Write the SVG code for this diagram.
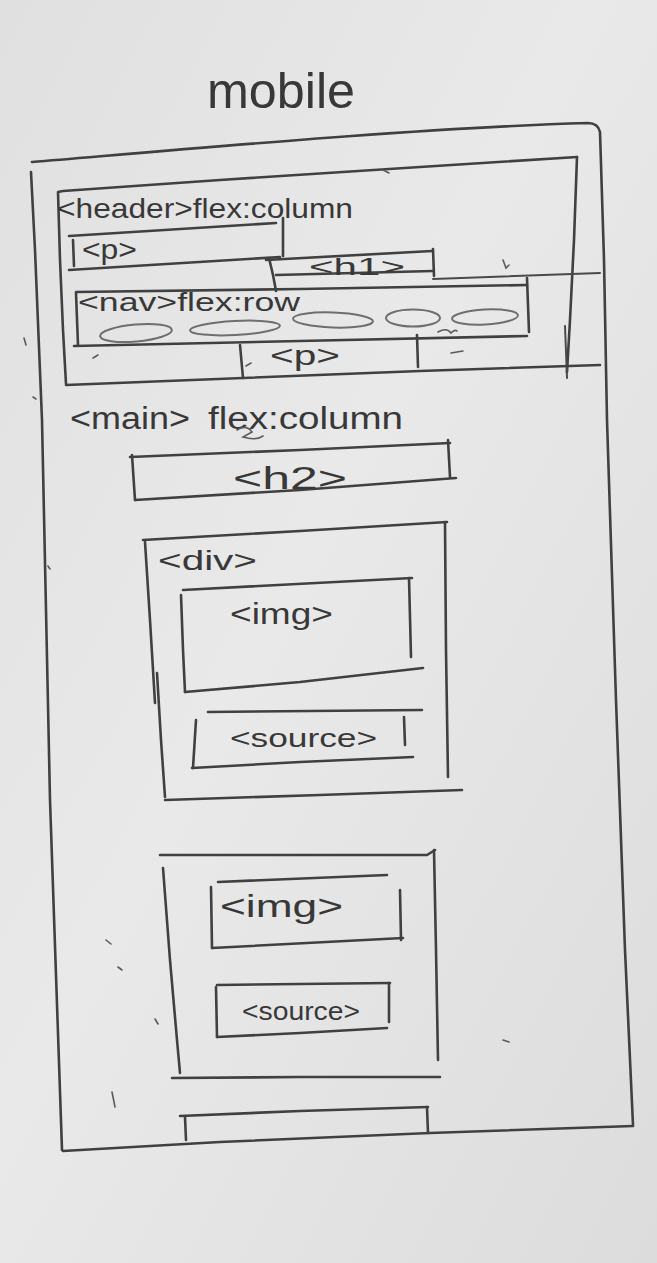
<svg xmlns="http://www.w3.org/2000/svg" width="657" height="1263" viewBox="0 0 657 1263">
  <defs>
    <linearGradient id="paper" x1="0" y1="0" x2="1" y2="1">
      <stop offset="0" stop-color="#e0e0e0"/>
      <stop offset="0.45" stop-color="#e9e9e9"/>
      <stop offset="1" stop-color="#dcdcdc"/>
    </linearGradient>
  </defs>
  <style>
    .pen{fill:none;stroke:#404040;stroke-width:2.6;stroke-linecap:round;stroke-linejoin:round}
    .thin{fill:none;stroke:#4a4a4a;stroke-width:2;stroke-linecap:round;stroke-linejoin:round}
    .oval{fill:none;stroke:#6e6e6e;stroke-width:2}
    .mark{fill:none;stroke:#5a5a5a;stroke-width:1.6;stroke-linecap:round}
    .txt{font-family:"Liberation Sans",Arial,sans-serif;fill:#383838}
  </style>

  <!-- paper -->
  <rect x="0" y="0" width="657" height="1263" fill="url(#paper)"/>

  <!-- page title -->
  <g id="title">
    <text class="txt" x="207" y="108" font-size="50" textLength="148" lengthAdjust="spacingAndGlyphs">mobile</text>
  </g>

  <!-- phone outline -->
  <g id="phone">
    <path class="pen" d="M32,162 C200,148 420,128 588,123 Q598,123 600,132 L604,260 L607,420 L616,700 L625,950 L633,1125"/>
    <path class="pen" d="M633,1126 L430,1133 L220,1142 L63,1151"/>
    <path class="pen" d="M62,1150 L50,800 L42,420 L35,250 L31,172"/>
  </g>

  <!-- header block -->
  <g id="header">
    <path class="pen" d="M577,157 L420,167 L220,180 L63,191 L58,192 L60,260 L63,330 L66,384"/>
    <path class="pen" d="M577,157 L574,240 L570,320 L567,372"/>
    <path class="thin" d="M565,326 L567,378"/>
    <path class="pen" d="M66,385 L243,378 L420,371 L600,365"/>
    <text class="txt" x="57" y="218" font-size="28" textLength="296" lengthAdjust="spacingAndGlyphs">&lt;header&gt;flex:column</text>
  </g>

  <g id="header-p">
    <path class="pen" d="M69,236 L276,223"/>
    <path class="pen" d="M283,218 L283,256"/>
    <path class="pen" d="M73,240 L74,266"/>
    <path class="pen" d="M69,270 L280,257"/>
    <text class="txt" x="82" y="259" font-size="27" textLength="55" lengthAdjust="spacingAndGlyphs">&lt;p&gt;</text>
  </g>

  <g id="header-h1">
    <path class="pen" d="M266,260 L432,251"/>
    <path class="pen" d="M433,249 L434,276"/>
    <path class="pen" d="M269,258 L273,275 L276,291"/>
    <path class="pen" d="M276,275 L433,271"/>
    <path class="thin" d="M433,279 L600,273"/>
    <text class="txt" x="309" y="275" font-size="24" textLength="96" lengthAdjust="spacingAndGlyphs">&lt;h1&gt;</text>
  </g>

  <g id="nav">
    <path class="pen" d="M76,292 L300,289 L527,285"/>
    <path class="pen" d="M76,293 L78,345"/>
    <path class="pen" d="M527,278 L529,332"/>
    <path class="pen" d="M74,346 L300,341 L527,336"/>
    <text class="txt" x="78" y="311" font-size="25" textLength="222" lengthAdjust="spacingAndGlyphs">&lt;nav&gt;flex:row</text>
    <ellipse class="oval" cx="136" cy="333" rx="36" ry="8.5" transform="rotate(-5 136 333)"/>
    <ellipse class="oval" cx="235" cy="328" rx="45" ry="7" transform="rotate(-3 235 328)"/>
    <ellipse class="oval" cx="333" cy="320" rx="40" ry="7.5" transform="rotate(2 333 320)"/>
    <ellipse class="oval" cx="413" cy="318" rx="27" ry="8.5"/>
    <ellipse class="oval" cx="485" cy="317" rx="33" ry="7.5" transform="rotate(-3 485 317)"/>
    <path class="mark" d="M438,332 Q447,327 451,333 Q455,329 457,331"/>
  </g>

  <g id="nav-p">
    <path class="pen" d="M240,345 L243,378"/>
    <path class="mark" d="M246,366 L251,363"/>
    <path class="pen" d="M417,335 L418,367"/>
    <text class="txt" x="270" y="365" font-size="27" textLength="70" lengthAdjust="spacingAndGlyphs">&lt;p&gt;</text>
  </g>

  <!-- main column -->
  <g id="main">
    <text class="txt" y="429" font-size="31"><tspan x="70" textLength="120" lengthAdjust="spacingAndGlyphs">&lt;main&gt;</tspan><tspan x="208" textLength="195" lengthAdjust="spacingAndGlyphs">flex:column</tspan></text>
    <path class="mark" d="M237,430 Q246,424 252,432 L243,437 Q256,441 263,436"/>
  </g>

  <g id="h2">
    <path class="pen" d="M130,457 L300,450 L450,443"/>
    <path class="pen" d="M448,440 L450,477"/>
    <path class="pen" d="M132,455 L135,500"/>
    <path class="pen" d="M135,500 L300,490 L456,478"/>
    <text class="txt" x="233" y="489" font-size="31" textLength="114" lengthAdjust="spacingAndGlyphs">&lt;h2&gt;</text>
  </g>

  <g id="card-1">
    <path class="pen" d="M143,540 L300,531 L447,522"/>
    <path class="pen" d="M145,542 L150,620 L155,703"/>
    <path class="pen" d="M157,673 L161,740 L165,797"/>
    <path class="pen" d="M445,522 L446,650 L448,777"/>
    <path class="pen" d="M165,800 L320,795 L462,790"/>
    <text class="txt" x="158" y="570" font-size="27" textLength="99" lengthAdjust="spacingAndGlyphs">&lt;div&gt;</text>
  </g>

  <g id="card-1-img">
    <path class="pen" d="M183,590 L412,578"/>
    <path class="pen" d="M409,578 L411,657"/>
    <path class="pen" d="M181,595 L183,650 L185,692"/>
    <path class="pen" d="M185,692 L300,682 L423,668"/>
    <text class="txt" x="230" y="624" font-size="29" textLength="103" lengthAdjust="spacingAndGlyphs">&lt;img&gt;</text>
  </g>

  <g id="card-1-source">
    <path class="pen" d="M208,712 L422,710"/>
    <path class="pen" d="M196,720 L193,768"/>
    <path class="pen" d="M404,717 L405,745"/>
    <path class="pen" d="M192,768 L300,762 L413,757"/>
    <text class="txt" x="230" y="747" font-size="26" textLength="147" lengthAdjust="spacingAndGlyphs">&lt;source&gt;</text>
  </g>

  <g id="card-2">
    <path class="pen" d="M160,855 L427,855 L435,850"/>
    <path class="pen" d="M434,850 L436,950 L438,1060"/>
    <path class="pen" d="M163,868 L170,960 L177,1040 L180,1073"/>
    <path class="pen" d="M172,1078 L300,1077 L440,1077"/>
  </g>

  <g id="card-2-img">
    <path class="pen" d="M218,882 L387,875"/>
    <path class="pen" d="M211,887 L212,948"/>
    <path class="pen" d="M400,890 L401,940"/>
    <path class="pen" d="M212,948 L403,938"/>
    <text class="txt" x="220" y="917" font-size="31" textLength="123" lengthAdjust="spacingAndGlyphs">&lt;img&gt;</text>
  </g>

  <g id="card-2-source">
    <path class="pen" d="M217,985 L390,983"/>
    <path class="pen" d="M216,987 L217,1037"/>
    <path class="pen" d="M389,983 L389,1022"/>
    <path class="pen" d="M217,1037 L300,1033 L387,1028"/>
    <text class="txt" x="242" y="1020" font-size="25" textLength="118" lengthAdjust="spacingAndGlyphs">&lt;source&gt;</text>
  </g>

  <g id="card-3">
    <path class="pen" d="M180,1116 L300,1111 L428,1107"/>
    <path class="pen" d="M185,1117 L186,1140"/>
    <path class="pen" d="M427,1107 L428,1133"/>
  </g>

  <!-- loose pencil marks -->
  <g id="marks">
    <path class="mark" d="M383,170 L389,173"/>
    <path class="mark" d="M503,260 L506,268 L509,265"/>
    <path class="mark" d="M24,338 L26,345"/>
    <path class="mark" d="M93,358 L98,355"/>
    <path class="mark" d="M451,353 L463,351"/>
    <path class="mark" d="M33,397 L36,399"/>
    <path class="mark" d="M112,1092 L115,1107"/>
    <path class="mark" d="M106,940 L111,944"/>
    <path class="mark" d="M118,967 L122,970"/>
    <path class="mark" d="M155,1019 L158,1024"/>
    <path class="mark" d="M503,1040 L509,1042"/>
    <path class="mark" d="M48,566 L50,569"/>
  </g>
</svg>
